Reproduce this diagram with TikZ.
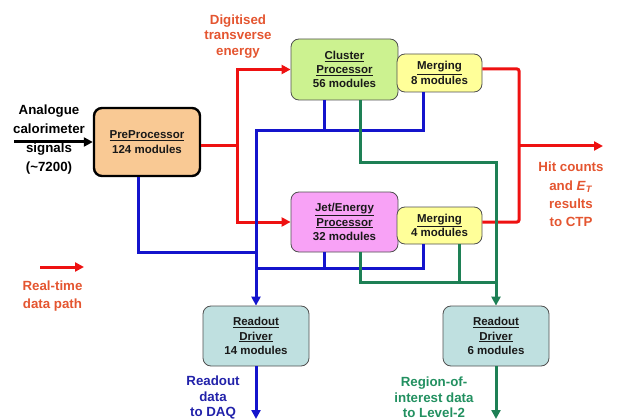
\documentclass[tikz,border=0pt]{standalone}
\usepackage{fontspec}
\setmainfont{Liberation Sans}
\usetikzlibrary{arrows.meta,calc}
\definecolor{ppfill}{HTML}{F9C994}
\definecolor{cpfill}{HTML}{CCF290}
\definecolor{mfill}{HTML}{FFFF99}
\definecolor{jpfill}{HTML}{F8A2F6}
\definecolor{rdfill}{HTML}{BFE0E0}
\definecolor{boxline}{HTML}{505050}
\definecolor{redc}{HTML}{EE1111}
\definecolor{bluec}{HTML}{1414CC}
\definecolor{greenc}{HTML}{1E8055}
\definecolor{redtext}{HTML}{E45530}
\definecolor{bluetext}{HTML}{2222AA}
\definecolor{greentext}{HTML}{229060}
\newcommand\boxfont{\fontsize{11.5}{14.3}\selectfont\bfseries}
\newcommand\lblfont{\fontsize{13.3}{15.5}\selectfont\bfseries}
\begin{document}
\begin{tikzpicture}[x=1pt,y=-1pt,
  box/.style={draw=boxline, line width=0.8pt, rounded corners=8pt, align=center,
    font=\boxfont, text=black!90, inner sep=0pt},
  lbl/.style={align=center, font=\lblfont, inner sep=0pt},
  conn/.style={line width=3pt},
  redline/.style={conn, draw=redc},
  blueline/.style={conn, draw=bluec},
  greenline/.style={conn, draw=greenc},
  tip/.style={-{Triangle[length=9pt,width=9pt]}}]
\useasboundingbox (0,0) rectangle (622,420);

% boxes
\node[box, fill=ppfill, draw=black, line width=2.4pt, minimum width=106pt, minimum height=68pt]
  (pp) at (147,142) {\underline{PreProcessor}\\124 modules};
\node[box, fill=cpfill, minimum width=107pt, minimum height=61pt]
  (cp) at (344.5,69.5) {\underline{Cluster}\\\underline{Processor}\\56 modules};
\node[box, fill=mfill, minimum width=85pt, minimum height=38pt]
  (m8) at (439.5,73) {\underline{Merging}\\8 modules};
\node[box, fill=jpfill, minimum width=107pt, minimum height=60pt]
  (jp) at (344.5,222) {\underline{Jet/Energy}\\\underline{Processor}\\32 modules};
\node[box, fill=mfill, minimum width=85pt, minimum height=37pt]
  (m4) at (439.5,225.5) {\underline{Merging}\\4 modules};
\node[box, fill=rdfill, minimum width=106pt, minimum height=60pt]
  (rd14) at (256,336) {\underline{Readout}\\\underline{Driver}\\14 modules};
\node[box, fill=rdfill, minimum width=106pt, minimum height=60pt]
  (rd6) at (496,336) {\underline{Readout}\\\underline{Driver}\\6 modules};

% labels
\node[lbl, text=black, font=\fontsize{13.3}{19}\selectfont\bfseries] (inlbl) at (49,139.5)
  {Analogue\\calorimeter\\signals\\(\textasciitilde7200)};
\node[lbl, text=redtext] (dte) at (238,36.5) {Digitised\\transverse\\energy};
\node[lbl, text=redtext, font=\fontsize{13.3}{18.4}\selectfont\bfseries] (hit) at (571,194.5)
  {Hit counts\\and \textit{E}\textsubscript{\textit{T}}\\results\\to CTP};
\node[lbl, text=redtext, font=\fontsize{13.3}{18.6}\selectfont\bfseries] (rtl) at (52.5,296)
  {Real-time\\data path};
\node[lbl, text=bluetext] (daq) at (213,397.5) {Readout\\data\\to DAQ};
\node[lbl, text=greentext] (roi) at (434,397.5) {Region-of-\\interest data\\to Level-2};

% helper coordinates
\coordinate (inS) at (14,142);
\coordinate (rx) at (237,0);
\coordinate (ox) at (519,0);
\coordinate (hitE) at (603,146);
\coordinate (bpx) at (138,0);
\coordinate (bx) at (256,0);
\coordinate (c1) at (324,0);
\coordinate (c2) at (423,0);
\coordinate (by1) at (0,131);
\coordinate (by2) at (0,252);
\coordinate (by3) at (0,268);
\coordinate (gx) at (360,0);
\coordinate (gm) at (459,0);
\coordinate (gy1) at (0,162);
\coordinate (gy2) at (0,282);
\coordinate (daqE) at (256,419);
\coordinate (roiE) at (496,419);
\coordinate (legS) at (40,267);
\coordinate (legE) at (84,267);

% input
\draw[conn, draw=black, tip] (inS) -- (pp.west |- inS);

% red real-time paths
\draw[redline] (pp.east |- 0,146) -- (rx |- 0,146);
\draw[redline, tip] (rx |- 0,146) |- (cp.west);
\draw[redline, tip] (rx |- 0,146) |- (jp.west);
\draw[redline, rounded corners=2pt] (m8.east |- 0,69) -| (ox |- 0,222) -- (m4.east |- 0,222);
\draw[redline, tip] (hitE -| ox) -- (hitE);
\draw[redline, tip] (legS) -- (legE);

% blue readout paths
\draw[blueline] (pp.south -| bpx) |- (bx |- by2);
\draw[blueline, tip] (m8.south -| c2) |- (bx |- by1) -- (rd14.north);
\draw[blueline] (cp.south -| c1) -- (c1 |- by1);
\draw[blueline] (m4.south -| c2) |- (bx |- by3);
\draw[blueline] (jp.south -| c1) -- (c1 |- by3);
\draw[blueline, tip] (rd14.south) -- (daqE);

% green RoI paths
\draw[greenline, tip] (cp.south -| gx) |- (rd6.north |- gy1) -- (rd6.north);
\draw[greenline] (jp.south -| gx) |- (rd6.north |- gy2);
\draw[greenline] (m4.south -| gm) -- (gm |- gy2);
\draw[greenline, tip] (rd6.south) -- (roiE);
\end{tikzpicture}
\end{document}
